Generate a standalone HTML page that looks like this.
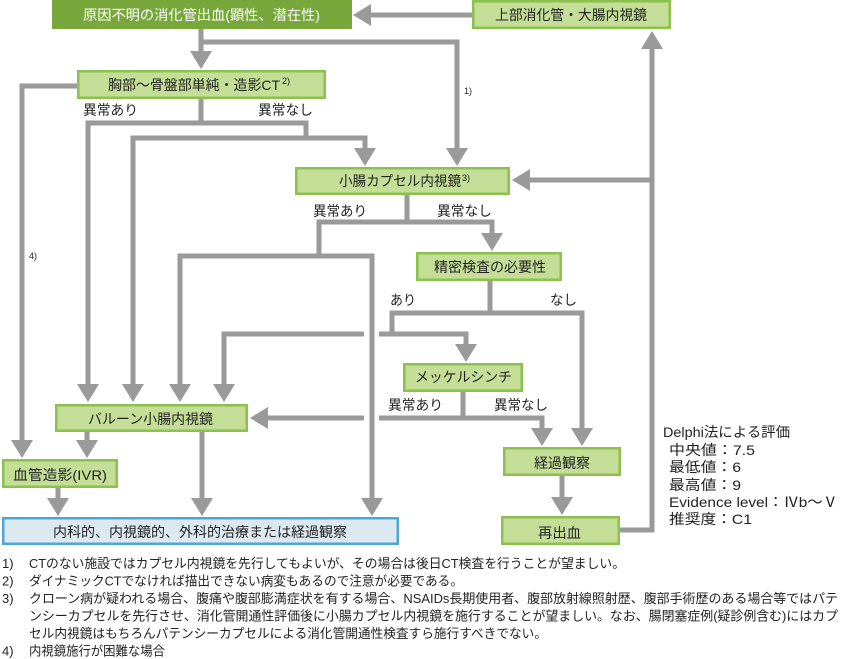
<!DOCTYPE html>
<html><head><meta charset="utf-8"><style>
html,body{margin:0;padding:0;background:#fff;}
svg{display:block;}
text{font-family:"Liberation Sans","Noto Sans CJK JP",sans-serif;fill:#222;}
</style></head><body>
<svg width="844" height="659" viewBox="0 0 844 659" xmlns="http://www.w3.org/2000/svg">
<g fill="none" stroke="#9a9a9a" stroke-width="5" stroke-linejoin="miter">
<path d="M201 29V51"/>
<path d="M201 42H457V148"/>
<path d="M472 15H371"/>
<path d="M620 530H652V49"/>
<path d="M652 180H530"/>
<path d="M77 86H22V440"/>
<path d="M201 99V123"/>
<path d="M88 384V123H306V138"/>
<path d="M133 384V138H365V148"/>
<path d="M407 195V222"/>
<path d="M319 256V222H492V233"/>
<path d="M180 384V256H372V498"/>
<path d="M490 281V313"/>
<path d="M392 334V313H582V428"/>
<path d="M224 384V334H364"/>
<path d="M379 334H466V344"/>
<path d="M463 392V418"/>
<path d="M379 418H542V428"/>
<path d="M364 418H268"/>
<path d="M87 432V440"/>
<path d="M202 432V498"/>
<path d="M58 488V498"/>
<path d="M562 476V497"/>
</g>
<g fill="#9a9a9a">
<polygon points="190,51 212,51 201,69"/>
<polygon points="446,148 468,148 457,166"/>
<polygon points="371,4 371,26 353,15"/>
<polygon points="641,49 663,49 652,31"/>
<polygon points="530,169 530,191 512,180"/>
<polygon points="11,440 33,440 22,458"/>
<polygon points="77,384 99,384 88,402"/>
<polygon points="122,384 144,384 133,402"/>
<polygon points="354,148 376,148 365,166"/>
<polygon points="481,233 503,233 492,251"/>
<polygon points="169,384 191,384 180,402"/>
<polygon points="361,498 383,498 372,516"/>
<polygon points="571,428 593,428 582,446"/>
<polygon points="213,384 235,384 224,402"/>
<polygon points="455,344 477,344 466,362"/>
<polygon points="531,428 553,428 542,446"/>
<polygon points="268,407 268,429 250,418"/>
<polygon points="76,440 98,440 87,458"/>
<polygon points="191,498 213,498 202,516"/>
<polygon points="47,498 69,498 58,516"/>
<polygon points="551,497 573,497 562,515"/>
</g>
<!-- boxes -->
<rect x="52" y="0" width="300" height="29" fill="#78a83b"/>
<g fill="#c4de97" stroke="#8cc14f" stroke-width="2.5">
<rect x="473.25" y="1.25" width="196.5" height="26.5"/>
<rect x="78.25" y="71.25" width="246.5" height="26.5"/>
<rect x="296.25" y="168.25" width="212.5" height="25.5"/>
<rect x="417.25" y="253.25" width="143.5" height="26.5"/>
<rect x="404.25" y="364.25" width="117.5" height="26.5"/>
<rect x="56.25" y="405.25" width="190.5" height="25.5"/>
<rect x="504.25" y="448.25" width="115.5" height="26.5"/>
<rect x="3.25" y="460.25" width="113.5" height="26.5"/>
<rect x="502.25" y="517.25" width="116.5" height="26.5"/>
</g>
<rect x="3.25" y="518.25" width="394.5" height="25.5" fill="#dde9f1" stroke="#4ba7d5" stroke-width="2.5"/>
<!-- box texts -->
<g font-size="14">
<text x="83" y="20" textLength="237" lengthAdjust="spacingAndGlyphs" style="fill:#fff">原因不明の消化管出血(顕性、潜在性)</text>
<text x="495" y="20" textLength="152" lengthAdjust="spacingAndGlyphs">上部消化管・大腸内視鏡</text>
<text x="108" y="90" textLength="172" lengthAdjust="spacingAndGlyphs">胸部～骨盤部単純・造影CT</text>
<text x="339" y="186" textLength="122" lengthAdjust="spacingAndGlyphs">小腸カプセル内視鏡</text>
<text x="434" y="272" textLength="112" lengthAdjust="spacingAndGlyphs">精密検査の必要性</text>
<text x="415" y="382" textLength="97" lengthAdjust="spacingAndGlyphs">メッケルシンチ</text>
<text x="88" y="424" textLength="125" lengthAdjust="spacingAndGlyphs">バルーン小腸内視鏡</text>
<text x="13" y="480" textLength="94" lengthAdjust="spacingAndGlyphs">血管造影(IVR)</text>
<text x="53" y="537" textLength="294" lengthAdjust="spacingAndGlyphs">内科的、内視鏡的、外科的治療または経過観察</text>
<text x="534" y="468" textLength="56" lengthAdjust="spacingAndGlyphs">経過観察</text>
<text x="538" y="538" textLength="43" lengthAdjust="spacingAndGlyphs">再出血</text>
<text x="83" y="115" textLength="55" lengthAdjust="spacingAndGlyphs">異常あり</text>
<text x="258" y="115" textLength="55" lengthAdjust="spacingAndGlyphs">異常なし</text>
<text x="313" y="216" textLength="54" lengthAdjust="spacingAndGlyphs">異常あり</text>
<text x="437" y="216" textLength="55" lengthAdjust="spacingAndGlyphs">異常なし</text>
<text x="390" y="305" textLength="26" lengthAdjust="spacingAndGlyphs">あり</text>
<text x="550" y="305" textLength="27" lengthAdjust="spacingAndGlyphs">なし</text>
<text x="388" y="410" textLength="55" lengthAdjust="spacingAndGlyphs">異常あり</text>
<text x="494" y="410" textLength="54" lengthAdjust="spacingAndGlyphs">異常なし</text>
</g>
<g font-size="9">
<text x="282" y="84">2)</text>
<text x="462" y="181">3)</text>
<text x="464" y="94">1)</text>
<text x="29" y="259">4)</text>
</g>
<!-- Delphi -->
<g font-size="14">
<text x="663" y="437" textLength="127" lengthAdjust="spacingAndGlyphs">Delphi法による評価</text>
<text x="669" y="455" textLength="86" lengthAdjust="spacingAndGlyphs">中央値：7.5</text>
<text x="669" y="472" textLength="72" lengthAdjust="spacingAndGlyphs">最低値：6</text>
<text x="669" y="490" textLength="72" lengthAdjust="spacingAndGlyphs">最高値：9</text>
<text x="669" y="507" textLength="169" lengthAdjust="spacingAndGlyphs">Evidence level：Ⅳb～Ⅴ</text>
<text x="669" y="524" textLength="83" lengthAdjust="spacingAndGlyphs">推奨度：C1</text>
</g>
<!-- footnotes -->
<g font-size="13">
<text x="2" y="568">1)</text>
<text x="29" y="568" textLength="596" lengthAdjust="spacingAndGlyphs">CTのない施設ではカプセル内視鏡を先行してもよいが、その場合は後日CT検査を行うことが望ましい。</text>
<text x="2" y="585.5">2)</text>
<text x="29" y="585.5" textLength="434" lengthAdjust="spacingAndGlyphs">ダイナミックCTでなければ描出できない病変もあるので注意が必要である。</text>
<text x="2" y="603">3)</text>
<text x="29" y="603" textLength="809" lengthAdjust="spacingAndGlyphs">クローン病が疑われる場合、腹痛や腹部膨満症状を有する場合、NSAIDs長期使用者、腹部放射線照射歴、腹部手術歴のある場合等ではパテ</text>
<text x="29" y="620.5" textLength="809" lengthAdjust="spacingAndGlyphs">ンシーカプセルを先行させ、消化管開通性評価後に小腸カプセル内視鏡を施行することが望ましい。なお、腸閉塞症例(疑診例含む)にはカプ</text>
<text x="29" y="638" textLength="518" lengthAdjust="spacingAndGlyphs">セル内視鏡はもちろんパテンシーカプセルによる消化管開通性検査すら施行すべきでない。</text>
<text x="2" y="655.5">4)</text>
<text x="29" y="655.5" textLength="136" lengthAdjust="spacingAndGlyphs">内視鏡施行が困難な場合</text>
</g>
</svg>
</body></html>
